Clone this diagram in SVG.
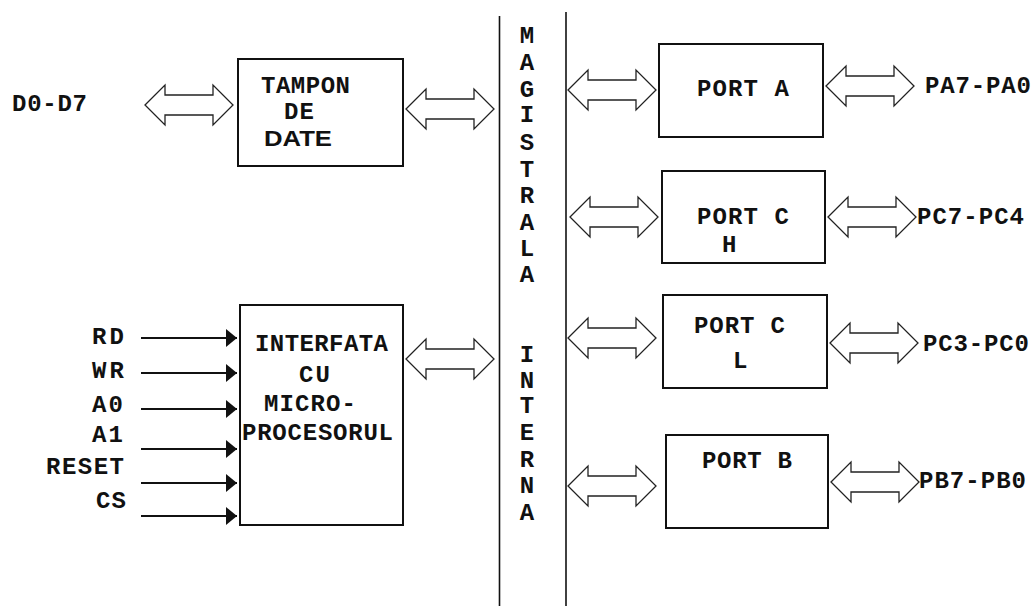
<svg xmlns="http://www.w3.org/2000/svg" width="1032" height="606" viewBox="0 0 1032 606">
<style>
.bg{fill:#fff}
.box{fill:#fff;stroke:#111;stroke-width:2}
.t{font-family:"Liberation Mono","Courier New",monospace;font-weight:bold;font-size:24px;fill:#111}
.s{font-family:"Liberation Sans",Arial,sans-serif;font-weight:bold;font-size:22px;fill:#111}
.v{font-family:"Liberation Mono","Courier New",monospace;font-weight:bold;font-size:24px;fill:#111;text-anchor:middle}
.bus{stroke:#111;stroke-width:1.6;fill:none}
.dbl{fill:#fff;stroke:#222;stroke-width:1.3}
.sig{stroke:#111;stroke-width:2;fill:none;marker-end:url(#ah)}
</style>
<defs>
<path id="dbl" d="M0,0 L20,-20 L20,-10 L68,-10 L68,-20 L88,0 L68,20 L68,10 L20,10 L20,20 Z"/>
<marker id="ah" markerWidth="12" markerHeight="20" refX="11" refY="10" orient="auto" markerUnits="userSpaceOnUse">
<path d="M0,1 L11,10 L0,19 Z" fill="#111"/>
</marker>
</defs>
<rect class="bg" x="0" y="0" width="1032" height="606"/>

<g id="bus">
<line class="bus" x1="499.5" y1="16" x2="499.5" y2="606"/>
<line class="bus" x1="566" y1="12" x2="566" y2="606"/>
<text class="v" x="527" y="43">M</text>
<text class="v" x="527" y="70">A</text>
<text class="v" x="527" y="97">G</text>
<text class="v" x="527" y="122">I</text>
<text class="v" x="527" y="150">S</text>
<text class="v" x="527" y="177">T</text>
<text class="v" x="527" y="203">R</text>
<text class="v" x="527" y="230">A</text>
<text class="v" x="527" y="256">L</text>
<text class="v" x="527" y="282">A</text>
<text class="v" x="527" y="362">I</text>
<text class="v" x="527" y="388">N</text>
<text class="v" x="527" y="413">T</text>
<text class="v" x="527" y="440">E</text>
<text class="v" x="527" y="467">R</text>
<text class="v" x="527" y="493">N</text>
<text class="v" x="527" y="520">A</text>
</g>

<g id="tampon">
<rect class="box" x="238" y="59" width="165" height="107"/>
<text class="t" x="261" y="93" textLength="89" lengthAdjust="spacing">TAMPON</text>
<text class="t" x="284" y="119" textLength="30" lengthAdjust="spacing">DE</text>
<text class="s" x="264" y="146" textLength="68" lengthAdjust="spacingAndGlyphs">DATE</text>
</g>

<g id="interfata">
<rect class="box" x="240" y="305" width="163" height="220"/>
<text class="t" x="255" y="351" textLength="133" lengthAdjust="spacing">INTERFATA</text>
<text class="t" x="299" y="382" textLength="31" lengthAdjust="spacing">CU</text>
<text class="t" x="264" y="411" textLength="92" lengthAdjust="spacing">MICRO-</text>
<text class="t" x="242" y="440" textLength="151" lengthAdjust="spacing">PROCESORUL</text>
</g>

<g id="portA">
<rect class="box" x="659" y="44" width="164" height="93"/>
<text class="t" x="697" y="96" textLength="92" lengthAdjust="spacing">PORT A</text>
</g>

<g id="portCH">
<rect class="box" x="662" y="171" width="163" height="92"/>
<text class="t" x="697" y="224" textLength="92" lengthAdjust="spacing">PORT C</text>
<text class="t" x="722" y="252">H</text>
</g>

<g id="portCL">
<rect class="box" x="663" y="295" width="164" height="93"/>
<text class="t" x="694" y="333" textLength="91" lengthAdjust="spacing">PORT C</text>
<text class="t" x="733" y="368">L</text>
</g>

<g id="portB">
<rect class="box" x="666" y="435" width="162" height="93"/>
<text class="t" x="702" y="468" textLength="90" lengthAdjust="spacing">PORT B</text>
</g>

<g id="labels">
<text class="t" x="12" y="111" textLength="75" lengthAdjust="spacing">D0-D7</text>
<text class="t" x="925" y="93" textLength="106" lengthAdjust="spacing">PA7-PA0</text>
<text class="t" x="917" y="224" textLength="107" lengthAdjust="spacing">PC7-PC4</text>
<text class="t" x="923" y="351" textLength="106" lengthAdjust="spacing">PC3-PC0</text>
<text class="t" x="919" y="488" textLength="107" lengthAdjust="spacing">PB7-PB0</text>
<text class="t" x="92" y="344" textLength="32" lengthAdjust="spacing">RD</text>
<text class="t" x="92" y="378" textLength="32" lengthAdjust="spacing">WR</text>
<text class="t" x="92" y="412" textLength="31" lengthAdjust="spacing">A0</text>
<text class="t" x="92" y="442" textLength="31" lengthAdjust="spacing">A1</text>
<text class="t" x="46" y="474" textLength="78" lengthAdjust="spacing">RESET</text>
<text class="t" x="96" y="508" textLength="30" lengthAdjust="spacing">CS</text>
</g>

<g id="connectors">
<use href="#dbl" class="dbl" transform="translate(145,105)"/>
<use href="#dbl" class="dbl" transform="translate(406,109)"/>
<use href="#dbl" class="dbl" transform="translate(406,359)"/>
<use href="#dbl" class="dbl" transform="translate(568,90)"/>
<use href="#dbl" class="dbl" transform="translate(826,86)"/>
<use href="#dbl" class="dbl" transform="translate(570,217)"/>
<use href="#dbl" class="dbl" transform="translate(828,217)"/>
<use href="#dbl" class="dbl" transform="translate(568,338)"/>
<use href="#dbl" class="dbl" transform="translate(830,343)"/>
<use href="#dbl" class="dbl" transform="translate(568,486)"/>
<use href="#dbl" class="dbl" transform="translate(831,482)"/>
<line class="sig" x1="141" y1="338" x2="237" y2="338"/>
<line class="sig" x1="141" y1="373" x2="237" y2="373"/>
<line class="sig" x1="141" y1="409" x2="237" y2="409"/>
<line class="sig" x1="141" y1="449" x2="237" y2="449"/>
<line class="sig" x1="141" y1="483" x2="237" y2="483"/>
<line class="sig" x1="141" y1="516" x2="237" y2="516"/>
</g>
</svg>
